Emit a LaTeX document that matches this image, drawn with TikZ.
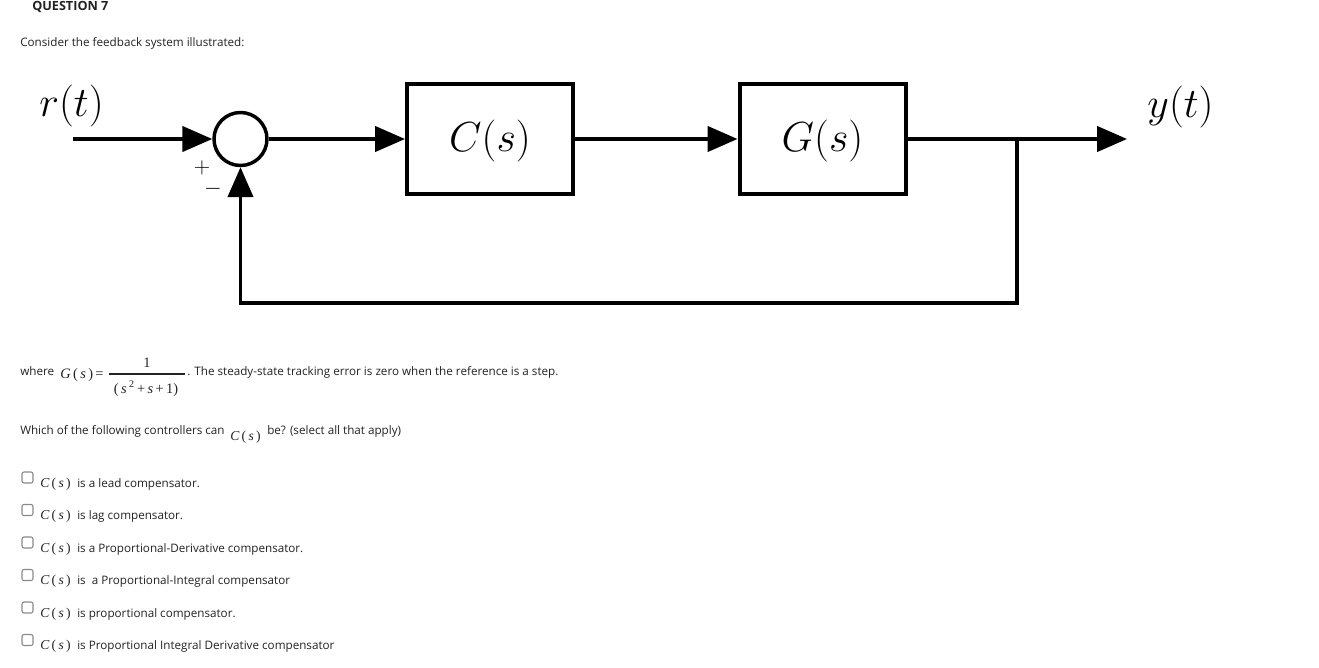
\documentclass[tikz,border=0pt]{standalone}
\usepackage{fix-cm}
\usepackage{fontspec}
\setmainfont{Open Sans}
\newfontfamily\mfont{Liberation Serif}
\usetikzlibrary{arrows.meta}
\definecolor{txt}{HTML}{222222}
\definecolor{boxgray}{HTML}{8A8A8A}
\newcommand{\diagmath}[1]{\fontsize{31.5}{31.5}\selectfont$#1$}
\newcommand{\Cs}{{\mfont\fontsize{10.2}{12}\selectfont\textit{C}\,(\,\textit{s}\,)}}
\begin{document}
\begin{tikzpicture}[x=0.75pt,y=-0.75pt,
  sig/.style={line width=2.5pt},
  sigarrow/.style={sig,-{Triangle[length=22.5pt,width=19pt]}},
  blockbox/.style={draw,line width=3pt,minimum width=124.5pt,minimum height=82.5pt,inner sep=0pt},
  sumnode/.style={draw,circle,line width=2.6pt,minimum size=39.75pt,inner sep=0pt},
  body/.style={font=\fontsize{8.75}{10}\selectfont,text=txt,inner sep=0pt,anchor=base west},
  mth/.style={font=\mfont\fontsize{10.8}{12}\selectfont,text=txt,inner sep=0pt},
  cbox/.style={draw=boxgray,line width=0.8pt,rounded corners=1.5pt,fill=white}]
\useasboundingbox (0,0) rectangle (1319,667);
% header
\node[body,font=\bfseries\fontsize{9.5}{11}\selectfont] (q) at (32,11) {QUESTION 7};
\node[body] (consider) at (20,46) {Consider the feedback system illustrated:};
% block diagram
\node[sumnode] (sum) at (240.5,139) {};
\node[blockbox] (C) at (490,139) {};
\node[blockbox] (G) at (822.5,139) {};
\node[anchor=base,inner sep=0pt] (Clab) at (490,151) {\diagmath{C(s)}};
\node[anchor=base,inner sep=0pt] (Glab) at (822.5,151) {\diagmath{G(s)}};
\node[anchor=base,inner sep=0pt] (rlab) at (71.5,116) {\diagmath{r(t)}};
\node[anchor=base,inner sep=0pt] (ylab) at (1180.5,117) {\diagmath{y(t)}};
\node[inner sep=0pt,font=\fontsize{17}{17}\selectfont] (plus) at (202,168) {$+$};
\node[inner sep=0pt,font=\fontsize{17}{17}\selectfont] (minus) at (213,189) {$-$};
\coordinate (in) at (73,139);
\coordinate (out) at (1127,139);
\coordinate (j) at (1017,139);
\coordinate (bl) at (240.5,303);
\draw[sigarrow] (in) -- (sum.west);
\draw[sigarrow] (sum.east) -- (C.west);
\draw[sigarrow] (C.east) -- (G.west);
\draw[sigarrow] (G.east) -- (out);
\draw[sigarrow,line join=miter] (j) |- (bl) -- (sum.south);
% where line
\node[body] (where) at (20,375) {where};
\node[mth,anchor=base west] (Gs) at (60,378) {\textit{G}\,(\,\textit{s}\,)\,=};
\node[mth,anchor=base] (num) at (147,367) {1};
\coordinate (barL) at (109,374);
\coordinate (barR) at (185,374);
\draw[line width=0.8pt,draw=txt] (barL) -- (barR);
\node[mth,anchor=base] (den) at (146,393) {(\,\textit{s}\,\textsuperscript{2}\,+\,\textit{s}\,+\,1)};
\node[body] (steady) at (187,375) {. The steady-state tracking error is zero when the reference is a step.};
% which line
\node[body] (which) at (20,434) {Which of the following controllers can};
\node[anchor=base west,inner sep=0pt,text=txt] (whichC) at (230,440) {\Cs};
\node[body] (be) at (267,434) {be? (select all that apply)};
% options
\foreach \i/\yb/\t in {1/487/{is a lead compensator.},
                      2/519.5/{is lag compensator.},
                      3/552/{is a Proportional-Derivative compensator.},
                      4/584.5/{is \ a Proportional-Integral compensator},
                      5/617/{is proportional compensator.},
                      6/649.5/{is Proportional Integral Derivative compensator}}{
  \draw[cbox] (22,\yb-15) rectangle (33,\yb-4);
  \node[anchor=base west,inner sep=0pt,text=txt] (oc\i) at (40,\yb) {\Cs};
  \node[body] (ot\i) at (77,\yb) {\t};
}
\end{tikzpicture}
\end{document}
